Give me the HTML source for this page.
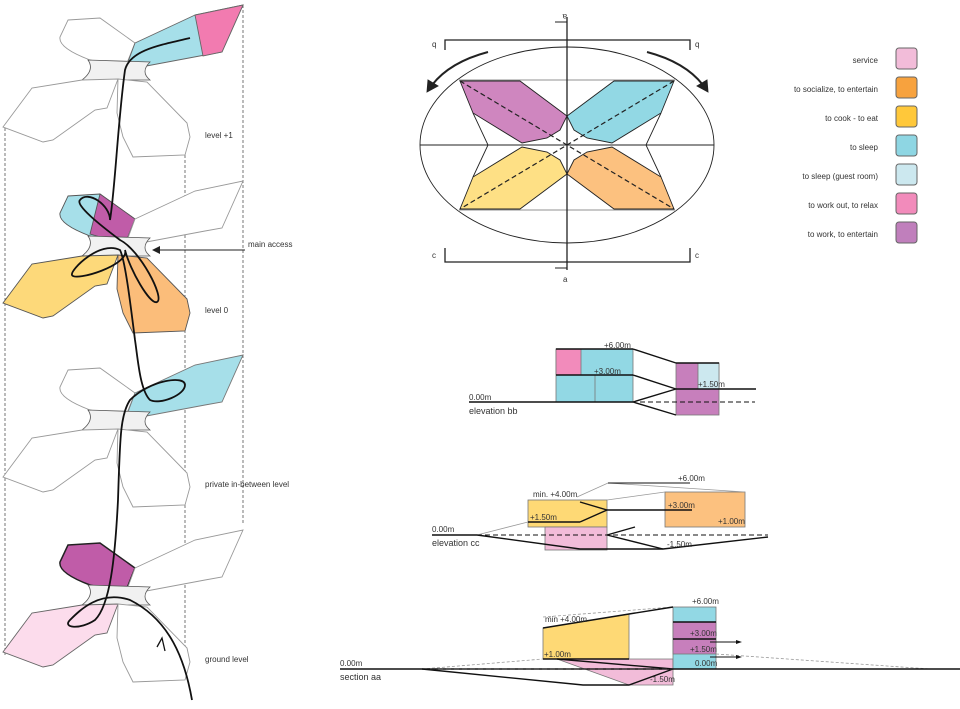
<!DOCTYPE html>
<html><head><meta charset="utf-8"><style>
body{margin:0;background:#fff;width:960px;height:704px;overflow:hidden}
svg{font-family:"Liberation Sans",sans-serif}
text{font-size:8px;fill:#333}
</style></head><body>
<svg width="960" height="704" viewBox="0 0 960 704" xmlns="http://www.w3.org/2000/svg">
<defs>
<g id="hub"><path d="M88,60 Q95,70 82,80 L150,80 Q140,72 150,62 Z" fill="#f1f1f1" stroke="#555" stroke-width="0.8"/></g>
</defs>
<!-- dashed verticals -->
<g stroke="#555" stroke-width="0.8" stroke-dasharray="3,2" fill="none">
<line x1="5" y1="128" x2="5" y2="655"/><line x1="185" y1="155" x2="185" y2="655"/><line x1="243" y1="5" x2="243" y2="525"/>
</g>
<!-- level template function via 4 groups -->
<g id="L1" stroke="#999" stroke-width="0.9">
<path d="M68,20 L100,18 L135,43 L125,68 L90,60 Q58,48 60,37 Z" fill="#fff"/>
<path d="M135,43 L195,15 L243,5 L222,52 L205,55 L125,70 Z" fill="#a6dfe9" stroke="#666"/>
<path d="M195,15 L243,5 L222,52 L203,56 Z" fill="#f27bb0" stroke="#666"/>
<use href="#hub"/>
<path d="M3,127 L32,88 L82,80 L118,79 L107,108 L95,110 L53,140 L43,142 Z" fill="#fff"/>
<path d="M118,79 L147,82 L187,123 L190,137 L185,155 L133,157 L123,137 L117,113 Z" fill="#fff"/>
</g>
<g transform="translate(0,176)" stroke="#999" stroke-width="0.9">
<path d="M68,20 L100,18 L135,43 L125,68 L90,60 Q58,48 60,37 Z" fill="#a6dfe9" stroke="#555"/>
<path d="M100,18 L135,43 L125,68 L90,58 Z" fill="#c05ca8" stroke="#555"/>
<path d="M135,43 L195,15 L243,5 L222,52 L205,55 L125,70 Z" fill="#fff"/>
<use href="#hub"/>
<path d="M3,127 L32,88 L82,80 L118,79 L107,108 L95,110 L53,140 L43,142 Z" fill="#fdd97a" stroke="#555"/>
<path d="M118,79 L147,82 L187,123 L190,137 L185,155 L133,157 L123,137 L117,113 Z" fill="#fbbd7a" stroke="#555"/>
</g>
<g transform="translate(0,350)" stroke="#999" stroke-width="0.9">
<path d="M68,20 L100,18 L135,43 L125,68 L90,60 Q58,48 60,37 Z" fill="#fff"/>
<path d="M135,43 L195,15 L243,5 L222,52 L205,55 L125,70 Z" fill="#a6dfe9" stroke="#777"/>
<use href="#hub"/>
<path d="M3,127 L32,88 L82,80 L118,79 L107,108 L95,110 L53,140 L43,142 Z" fill="#fff"/>
<path d="M118,79 L147,82 L187,123 L190,137 L185,155 L133,157 L123,137 L117,113 Z" fill="#fff"/>
</g>
<g transform="translate(0,525)" stroke="#999" stroke-width="0.9">
<path d="M68,20 L100,18 L135,43 L125,68 L90,60 Q58,48 60,37 Z" fill="#c05ca8" stroke="#222" stroke-width="1.5"/>
<path d="M135,43 L195,15 L243,5 L222,52 L205,55 L125,70 Z" fill="#fff"/>
<use href="#hub"/>
<path d="M3,127 L32,88 L82,80 L118,79 L107,108 L95,110 L53,140 L43,142 Z" fill="#fcdcec" stroke="#666"/>
<path d="M118,79 L147,82 L187,123 L190,137 L185,155 L133,157 L123,137 L117,113 Z" fill="#fff"/>
</g>
<!-- circulation path -->
<path d="M192,700 C185,660 170,620 130,600 C100,590 80,610 70,620 C62,628 80,630 95,620 C110,605 115,560 118,500 C120,440 120,415 130,400 C150,380 185,375 185,385 C185,395 160,405 150,400 C140,390 138,360 135,340 C130,300 125,260 120,250 C100,240 70,270 72,275 C75,282 130,265 125,250 C130,270 150,305 157,302 C165,298 140,250 120,240 C100,225 75,205 80,200 C88,190 110,205 110,220 C115,190 118,120 125,70 C130,50 160,45 190,38" fill="none" stroke="#111" stroke-width="1.8"/>
<path d="M157,647 L162,638 L165,651" fill="none" stroke="#111" stroke-width="1.3"/>
<!-- labels left -->
<text x="205" y="138">level +1</text>
<text x="205" y="313">level 0</text>
<text x="205" y="487">private in-between level</text>
<text x="205" y="662">ground level</text>
<text x="248" y="247">main access</text>
<line x1="245" y1="250" x2="158" y2="250" stroke="#222" stroke-width="1"/>
<path d="M152,250 L160,246 L160,254 Z" fill="#222"/>

<!-- top plan -->
<g stroke="#222" stroke-width="0.9">
<ellipse cx="567" cy="145" rx="147" ry="98" fill="#fff"/>
<line x1="420" y1="145" x2="714" y2="145"/>
<line x1="459" y1="80" x2="675" y2="80" stroke-width="0.6"/>
<line x1="459" y1="210" x2="675" y2="210" stroke-width="0.6"/>
<path d="M473,113 L488,145 L473,177 M661,113 L646,145 L661,177" fill="none"/>
<path d="M460,81 L520,81 L567,116 L560,130 L547,138 L522,143 L473,113 Z" fill="#cf86bf"/>
<path d="M674,81 L614,81 L567,116 L574,130 L587,138 L612,143 L661,113 Z" fill="#92d8e4"/>
<path d="M460,209 L520,209 L567,174 L560,160 L547,152 L522,147 L473,177 Z" fill="#fee085"/>
<path d="M674,209 L614,209 L567,174 L574,160 L587,152 L612,147 L661,177 Z" fill="#fcc17f"/>
<path d="M460,81 L674,209 M674,81 L460,209" stroke-dasharray="5,3" stroke-width="1.2" fill="none"/>
<line x1="567" y1="17" x2="567" y2="270" stroke-width="1.3"/>
<path d="M555,22 L567,22 M555,268 L567,268" fill="none"/>
<path d="M445,50 L445,40 L690,40 L690,50 M445,248 L445,262 L690,262 L690,248" fill="none" stroke-width="1.3"/>
<path d="M488,52 Q450,62 432,85" fill="none" stroke-width="2"/>
<path d="M427,92 L428,80 L438,86 Z" fill="#222"/>
<path d="M647,52 Q685,62 703,85" fill="none" stroke-width="2"/>
<path d="M708,92 L707,80 L697,86 Z" fill="#222"/>
</g>
<text x="432" y="47">q</text><text x="695" y="47">q</text>
<text x="432" y="258">c</text><text x="695" y="258">c</text>
<text x="563" y="20" transform="rotate(180 565 17)">a</text>
<text x="563" y="282">a</text>

<!-- legend -->
<g text-anchor="end">
<text x="878" y="63">service</text>
<text x="878" y="92">to socialize, to entertain</text>
<text x="878" y="121">to cook - to eat</text>
<text x="878" y="150">to sleep</text>
<text x="878" y="179">to sleep (guest room)</text>
<text x="878" y="208">to work out, to relax</text>
<text x="878" y="237">to work, to entertain</text>
</g>
<g stroke="#666" stroke-width="1">
<rect x="896" y="48" width="21" height="21" rx="3" fill="#f2bcd9"/>
<rect x="896" y="77" width="21" height="21" rx="3" fill="#f7a23e"/>
<rect x="896" y="106" width="21" height="21" rx="3" fill="#ffc83a"/>
<rect x="896" y="135" width="21" height="21" rx="3" fill="#8ed6e3"/>
<rect x="896" y="164" width="21" height="21" rx="3" fill="#cce8ef"/>
<rect x="896" y="193" width="21" height="21" rx="3" fill="#f28bbb"/>
<rect x="896" y="222" width="21" height="21" rx="3" fill="#c07fbc"/>
</g>

<!-- elevation bb -->
<g stroke="#777" stroke-width="0.8">
<rect x="556" y="349" width="77" height="53" fill="#92d8e4"/>
<rect x="556" y="349" width="25" height="26" fill="#f28bbb"/>
<line x1="595" y1="375" x2="595" y2="402"/>
<rect x="676" y="363" width="43" height="52" fill="#c77fbc"/>
<rect x="698" y="363" width="21" height="26" fill="#cce8ef"/>
</g>
<g stroke="#111" stroke-width="1.4" fill="none">
<line x1="469" y1="402" x2="633" y2="402"/>
<line x1="556" y1="349" x2="633" y2="349"/>
<line x1="556" y1="375" x2="633" y2="375"/>
<line x1="676" y1="389" x2="756" y2="389"/>
<line x1="676" y1="363" x2="719" y2="363"/>
<path d="M633,349 L676,363 M633,375 L676,389 M633,402 L676,389 M633,402 L676,415"/>
<line x1="640" y1="402" x2="755" y2="402" stroke-dasharray="5,3" stroke-width="1"/>
</g>
<text x="604" y="348">+6.00m</text><text x="594" y="374">+3.00m</text>
<text x="698" y="387">+1.50m</text><text x="469" y="400">0.00m</text>
<text x="469" y="414" style="font-size:9px">elevation bb</text>

<!-- elevation cc -->
<g stroke="#777" stroke-width="0.8">
<rect x="528" y="500" width="79" height="27" fill="#fed975"/>
<rect x="545" y="527" width="62" height="23" fill="#f2bcd9"/>
<rect x="665" y="492" width="80" height="35" fill="#fcc17f"/>
<path d="M577,497 L608,483 L745,492 M607,500 L665,492" fill="none" stroke="#999"/>
<path d="M477,535 L528,522" stroke="#999"/>
</g>
<g stroke="#111" stroke-width="1.4" fill="none">
<path d="M580,502 L607,510 L580,522 M528,522 L580,522 M607,510 L692,510"/>
<path d="M432,535 L477,535 L580,549 L663,549 L768,537"/>
<path d="M607,535 L635,527 M607,535 L663,549"/>
<line x1="477" y1="535" x2="768" y2="535" stroke-dasharray="5,3" stroke-width="1"/>
<line x1="608" y1="483" x2="690" y2="483" stroke-width="1"/>
</g>
<text x="678" y="481">+6.00m</text><text x="533" y="497">min. +4.00m</text>
<text x="530" y="520">+1.50m</text><text x="668" y="508">+3.00m</text>
<text x="718" y="524">+1.00m</text><text x="667" y="547">-1.50m</text>
<text x="432" y="532">0.00m</text><text x="432" y="546" style="font-size:9px">elevation cc</text>

<!-- section aa -->
<g stroke="#777" stroke-width="0.8">
<path d="M543,628 L629,614 L629,659 L543,659 Z" fill="#fed975"/>
<path d="M557,659 L673,659 L673,685 L629,685 Z" fill="#f2bcd9"/>
<rect x="673" y="607" width="43" height="62" fill="#92d8e4"/>
<rect x="673" y="622" width="43" height="32" fill="#c77fbc"/>
<path d="M543,617 L673,607 M422,669 L543,659 M716,654 L930,669" fill="none" stroke="#999" stroke-dasharray="3,2"/>
</g>
<g stroke="#111" stroke-width="1.4" fill="none">
<path d="M543,628 L629,614 M629,614 L673,607"/>
<line x1="543" y1="659" x2="629" y2="659"/>
<path d="M673,622 L716,622 M673,639 L716,639"/>
<line x1="340" y1="669" x2="960" y2="669"/>
<path d="M422,669 L583,685 L629,685 L673,669 L557,659"/>
<line x1="430" y1="669" x2="673" y2="669" stroke-dasharray="5,3" stroke-width="1" stroke="#333"/>
<path d="M710,642 L738,642 M710,657 L738,657" stroke-width="1"/>
</g>
<path d="M742,642 L736,640 L736,644 Z M742,657 L736,655 L736,659 Z" fill="#111"/>
<text x="692" y="604">+6.00m</text><text x="545" y="622">min +4.00m</text>
<text x="690" y="636">+3.00m</text><text x="690" y="652">+1.50m</text>
<text x="544" y="657">+1.00m</text><text x="695" y="666">0.00m</text>
<text x="650" y="682">-1.50m</text><text x="340" y="666">0.00m</text>
<text x="340" y="680" style="font-size:9px">section aa</text>
</svg>
</body></html>
